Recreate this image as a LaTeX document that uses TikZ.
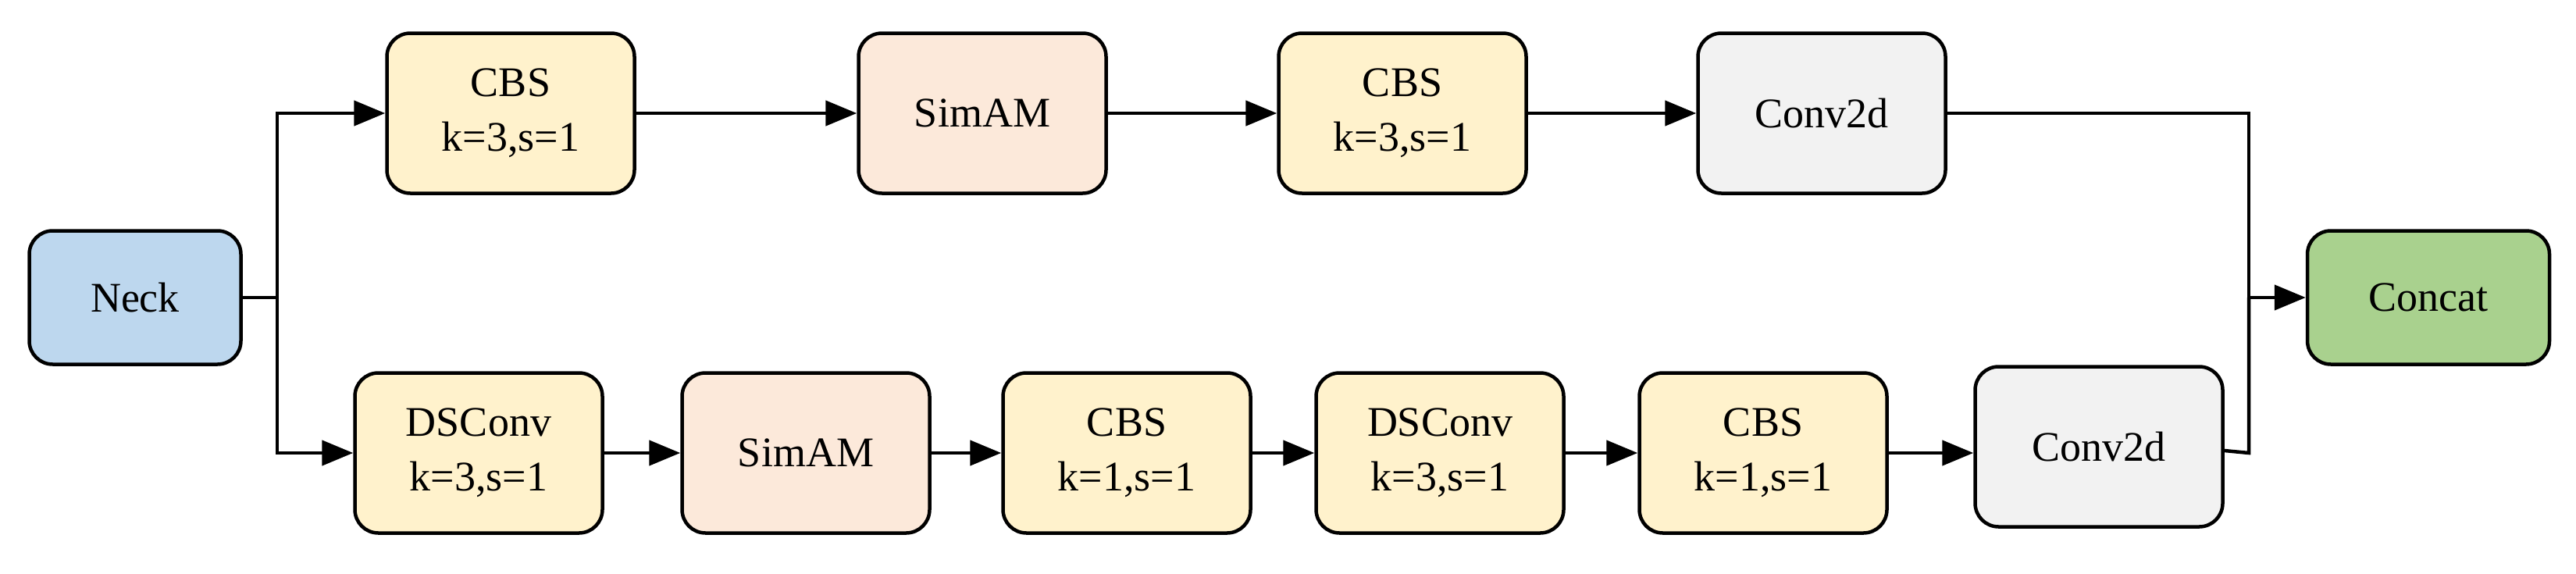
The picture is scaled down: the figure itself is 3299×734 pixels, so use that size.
\documentclass[tikz,border=0pt]{standalone}
\usepackage{fontspec}
\setmainfont{Liberation Serif}
\usetikzlibrary{arrows.meta}
\definecolor{cy}{HTML}{FFF2CC}
\definecolor{cs}{HTML}{FCE9DA}
\definecolor{cg}{HTML}{F2F2F2}
\definecolor{cb}{HTML}{BDD7EE}
\definecolor{cgr}{HTML}{A9D18E}
\begin{document}
\begin{tikzpicture}[x=1pt,y=-1pt,
  box/.style={draw,line width=4.5pt,rounded corners=30pt,minimum width=317pt,minimum height=205pt,align=center,font=\fontsize{54}{70}\selectfont,inner sep=0pt},
  arr/.style={line width=4.5pt,-{Triangle[length=40pt,width=32pt]}},
  ln/.style={line width=4.5pt}]
\useasboundingbox (0,0) rectangle (3299,734);
\node[box,fill=cb,minimum width=271pt,minimum height=171pt] (neck) at (173,381) {Neck};
\node[box,fill=cy] (t1) at (654,145) {CBS\\k=3,s=1};
\node[box,fill=cs] (t2) at (1258,145) {SimAM};
\node[box,fill=cy] (t3) at (1796,145) {CBS\\k=3,s=1};
\node[box,fill=cg] (t4) at (2333,145) {Conv2d};
\node[box,fill=cy] (b1) at (613,580) {DSConv\\k=3,s=1};
\node[box,fill=cs] (b2) at (1032,580) {SimAM};
\node[box,fill=cy] (b3) at (1443,580) {CBS\\k=1,s=1};
\node[box,fill=cy] (b4) at (1844,580) {DSConv\\k=3,s=1};
\node[box,fill=cy] (b5) at (2258,580) {CBS\\k=1,s=1};
\node[box,fill=cg] (b6) at (2688,572) {Conv2d};
\node[box,fill=cgr,minimum width=310pt,minimum height=171pt] (cc) at (3110,381) {Concat};
\coordinate (j) at (355,381);
\coordinate (m) at (2880,381);
\draw[ln] (neck.east) -- (j);
\draw[arr] (j) |- (t1.west);
\draw[arr] (j) |- (b1.west);
\draw[arr] (t1) -- (t2);
\draw[arr] (t2) -- (t3);
\draw[arr] (t3) -- (t4);
\draw[arr] (b1) -- (b2);
\draw[arr] (b2) -- (b3);
\draw[arr] (b3) -- (b4);
\draw[arr] (b4) -- (b5);
\draw[arr] (b5.east) -- (b5.east -| b6.west);
\draw[ln] (t4.east) -| (m);
\draw[ln] ([yshift=-5pt]b6.east) -- (2880,580) -- (m);
\draw[arr] (m) -- (cc.west);
\end{tikzpicture}
\end{document}
